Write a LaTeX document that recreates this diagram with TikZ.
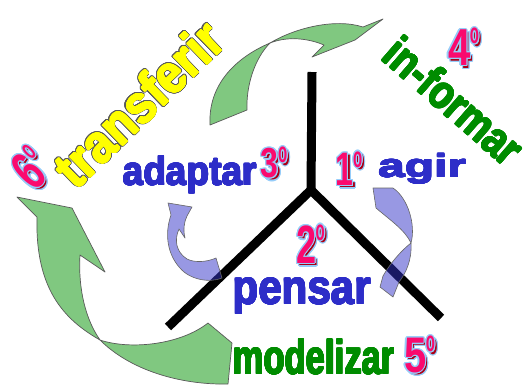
\documentclass[tikz,border=0pt]{standalone}
\usepackage{fontspec}
\setmainfont{Liberation Sans}
\usepackage{graphicx}
\usepackage{contour}
\contourlength{1.1pt}
\definecolor{numpink}{RGB}{250,10,110}
\definecolor{numshadow}{RGB}{170,0,20}
\definecolor{glow}{RGB}{150,205,250}
\definecolor{wordblue}{RGB}{45,45,200}
\definecolor{wordgreen}{RGB}{0,140,0}
\definecolor{wordyellow}{RGB}{255,255,0}
\definecolor{outlinegray}{RGB}{90,90,90}
\definecolor{arrowgreen}{RGB}{128,200,128}
\definecolor{arrowblue}{RGB}{50,50,200}
\newcommand\wrd[3]{\scalebox{#1}[#2]{\fontsize{20}{24}\selectfont\bfseries #3}}
\newcommand\heavy[2]{{\contourlength{0.55pt}\contour{#1}{#2}}}
\newcommand\ordn[3]{\scalebox{#1}[#2]{\fontsize{20}{24}\selectfont\bfseries #3}\kern-0.5pt\raisebox{\dimexpr #2\dimexpr 14.3pt\relax - 15.2pt\relax}{\scalebox{0.75}[1.45]{\fontsize{20}{24}\selectfont\bfseries o}}}
\tikzset{
  yline/.style={line width=9pt, black},
  greenarrow/.style={fill=arrowgreen, draw=black!65, line width=0.7pt, line join=round},
  bluearrow/.style={fill=arrowblue, fill opacity=0.5, draw=black!60, line width=0.6pt, line join=round},
  numtext/.style={inner sep=0pt, anchor=center},
  wordtext/.style={inner sep=0pt, anchor=base west},
}
\newcommand\pinknum[7]{%
  \node[numtext, text=numshadow, rotate=#4] (#1s) at (#2+2.5,#3+2.5) {\contour{glow}{\ordn{#5}{#6}{#7}}};
  \node[numtext, text=numpink, rotate=#4] (#1) at (#2,#3) {\contour{glow}{\ordn{#5}{#6}{#7}}};}
\begin{document}
\begin{tikzpicture}[x=1pt,y=-1pt]
\fill[white] (0,0) rectangle (526,384);
\useasboundingbox (0,0) rectangle (526,384);

% green arrows
\path[greenarrow] (270,43) .. controls (235,58) and (208,85) .. (210,125) -- (247,110) .. controls (246,85) and (255,58) .. (270,43) -- cycle;
\path[greenarrow] (270,43) .. controls (295,28) and (335,18) .. (363,27) -- (383,19) -- (355,40) -- (312,57) -- (324,45) .. controls (305,37) and (285,37) .. (270,43) -- cycle;
\path[greenarrow] (100,340) .. controls (65,320) and (35,290) .. (37,217) -- (17,197) -- (72,208) -- (105,272) -- (80,255) .. controls (78,290) and (86,320) .. (100,340) -- cycle;
\path[greenarrow] (100,340) .. controls (130,350) and (180,345) .. (208,323) -- (232,343) -- (228,384) .. controls (180,385) and (130,370) .. (100,340) -- cycle;

% Y lines
\coordinate (top) at (312,72);
\coordinate (J) at (311,190);
\coordinate (L) at (168,327);
\coordinate (R) at (441,318);
\draw[yline] (top) -- (J);
\draw[yline, line join=miter] (L) -- (J) -- (R);

% blue arrows
\path[bluearrow] (168,203) -- (192,207) -- (187,216) .. controls (184,222) and (183,230) .. (185,238) -- (179,229) .. controls (174,240) and (176,252) .. (187,259) .. controls (195,263) and (207,262) .. (216,258) -- (222,278) .. controls (210,283) and (190,280) .. (180,268) .. controls (168,255) and (164,235) .. (171,215) -- cycle;
\path[bluearrow] (373,188) -- (393,188) .. controls (408,198) and (416,225) .. (411,243) .. controls (405,230) and (390,220) .. (376,208) -- cycle;
\path[bluearrow] (411,243) .. controls (412,260) and (406,273) .. (399,282) -- (393,297) -- (380,287) -- (383,276) .. controls (391,262) and (402,250) .. (411,243) -- cycle;

% words
\node[inner sep=0pt, rotate=44, text=outlinegray] (transferirbg) at (139,104) {{\contourlength{1.4pt}\contour[32]{outlinegray}{\wrd{2.4}{2.7}{transferir}}}};
\node[inner sep=0pt, rotate=44, text=wordyellow] (transferir) at (139,104) {\heavy{wordyellow}{\wrd{2.4}{2.7}{transferir}}};
\node[inner sep=0pt, rotate=-41, text=wordgreen] (informar) at (454,101) {\heavy{wordgreen}{\wrd{1.9}{2.35}{in-formar}}};
\node[wordtext, text=wordblue] (adaptar) at (123,185) {\heavy{wordblue}{\wrd{1.85}{2.0}{adaptar}}};
\node[wordtext, text=wordblue] (agir) at (378,177) {\heavy{wordblue}{\wrd{2.4}{1.6}{agir}}};
\node[wordtext, text=wordblue] (pensar) at (233,304) {\heavy{wordblue}{\wrd{2.1}{2.4}{pensar}}};
\node[wordtext, text=wordgreen] (modelizar) at (233,374) {\heavy{wordgreen}{\wrd{1.73}{2.4}{modelizar}}};

% numbers
\pinknum{n3}{274}{163}{0}{1.6}{2.1}{3}
\pinknum{n1}{349}{169}{0}{1.6}{2.35}{1}
\pinknum{n2}{310.5}{244.5}{0}{1.8}{2.7}{2}
\pinknum{n5}{419.5}{355}{0}{2.0}{2.5}{5}
\pinknum{n4}{463.5}{47.5}{0}{2.0}{2.6}{4}
\pinknum{n6}{31}{168}{45}{1.9}{2.8}{6}
\end{tikzpicture}
\end{document}
